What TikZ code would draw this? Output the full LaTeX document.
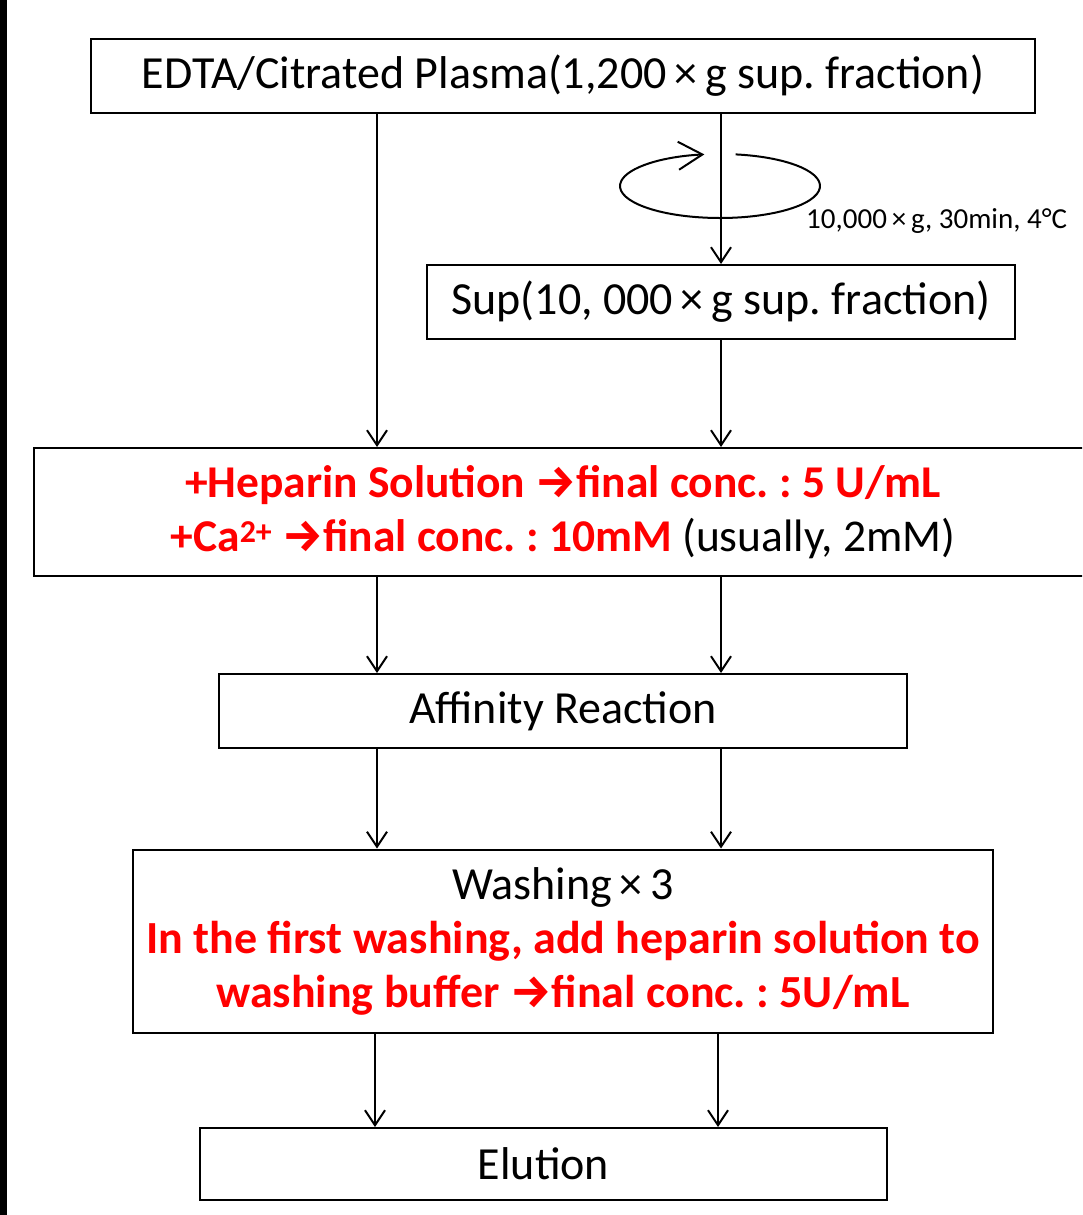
\documentclass[tikz,border=0pt]{standalone}
\usepackage{fontspec}
\setmainfont{Carlito}
\newfontfamily\arrfont{Fira Sans}
\usetikzlibrary{arrows.meta,calc}
\definecolor{hred}{RGB}{255,0,0}
\newcommand{\rarr}{{\arrfont\bfseries →}}
\frenchspacing
\begin{document}
\begin{tikzpicture}[x=1pt,y=-1pt,
  box/.style={draw,line width=2pt,inner sep=0pt,align=center,
    font=\fontsize{46}{54}\selectfont},
  flow/.style={line width=2pt,-{Straight Barb[length=15pt,width=20pt,line width=2pt]}}]
\clip (0,0) rectangle (1082,1215);
\useasboundingbox (0,0) rectangle (1082,1215);
\fill[white] (0,0) rectangle (1082,1215);
\fill[black] (0,0) rectangle (7,1215);
\coordinate (L) at (377,0);
\coordinate (R) at (721,0);
\coordinate (L2) at (375,0);
\coordinate (R2) at (718,0);
\node[box,minimum width=944pt,minimum height=73pt] (b1) at (563,76)
  {EDTA/Citrated Plasma(1,200\,×\,g sup. fraction)};
\node[box,minimum width=588pt,minimum height=74pt] (sup) at (721,302)
  {Sup(10, 000\,×\,g sup. fraction)};
\node[box,minimum width=1058pt,minimum height=128pt,font=\fontsize{45.5}{54}\selectfont] (hep) at (563,512)
  {\color{hred}\bfseries +Heparin Solution \rarr final conc. : 5 U/mL\\
   {\color{hred}\bfseries +Ca\textsuperscript{2+} \rarr final conc. : 10mM} (usually, 2mM)};
\node[box,minimum width=688pt,minimum height=74pt] (aff) at (563,711)
  {Affinity Reaction};
\node[box,minimum width=860pt,minimum height=183pt] (wash) at (563,941)
  {Washing\,×\,3\\
   \color{hred}\bfseries In the first washing, add heparin solution to\\
   \color{hred}\bfseries washing buffer \rarr final conc. : 5U/mL};
\node[box,minimum width=687pt,minimum height=72pt] (elu) at (543.5,1164)
  {Elution};
% connectors
\draw[flow] (b1.south -| L) -- (hep.north -| L);
\draw[flow] (b1.south -| R) -- (sup.north -| R);
\draw[flow] (sup.south -| R) -- (hep.north -| R);
\draw[flow] (hep.south -| L) -- (aff.north -| L);
\draw[flow] (hep.south -| R) -- (aff.north -| R);
\draw[flow] (aff.south -| L) -- (wash.north -| L);
\draw[flow] (aff.south -| R) -- (wash.north -| R);
\draw[flow] (wash.south -| L2) -- (elu.north -| L2);
\draw[flow] (wash.south -| R2) -- (elu.north -| R2);
% rotation symbol
\coordinate (rot) at (720,186);
\draw[line width=2pt,-{Straight Barb[length=24pt,width=28pt,line width=2pt]}]
  ($(rot)+(279:100 and 32)$) arc[start angle=279,end angle=621,x radius=100,y radius=32];
\node[anchor=west,inner sep=0pt,font=\fontsize{29}{32}\selectfont] (cond) at (806,221)
  {10,000\,×\,g, 30min, 4°C};
\end{tikzpicture}
\end{document}
